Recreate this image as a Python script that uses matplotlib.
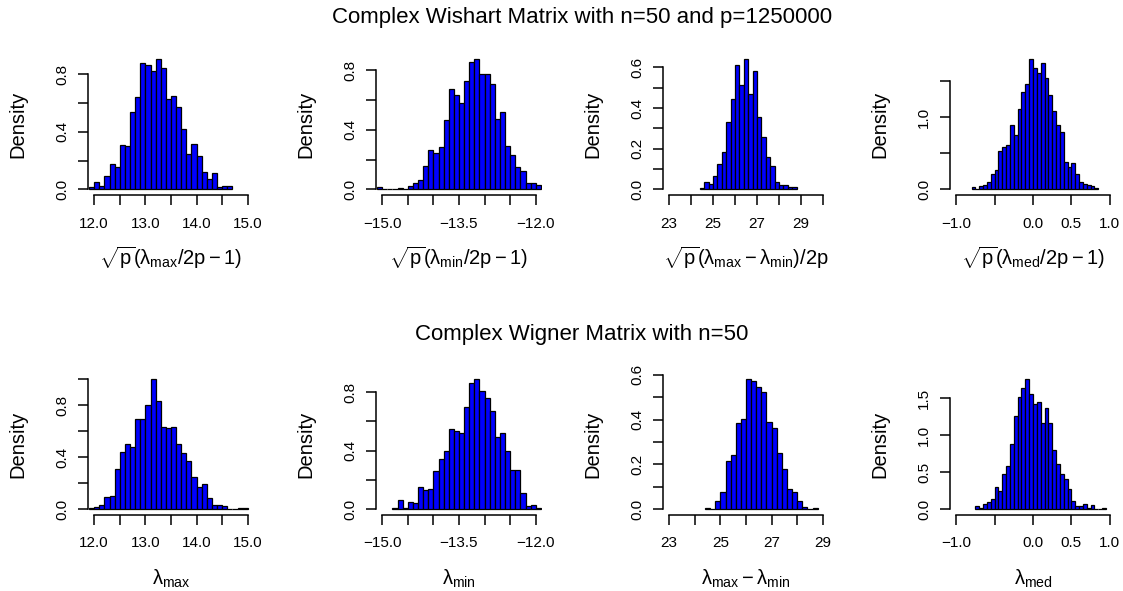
import numpy as np
import matplotlib
matplotlib.use("Agg")
import matplotlib.pyplot as plt

plt.rcParams['font.family'] = ['Liberation Sans', 'DejaVu Sans']
plt.rcParams['mathtext.fontset'] = 'custom'
plt.rcParams['mathtext.rm'] = 'Liberation Sans'
plt.rcParams['mathtext.it'] = 'Liberation Sans'
plt.rcParams['mathtext.sf'] = 'Liberation Sans'
plt.rcParams['mathtext.bf'] = 'Liberation Sans:bold'

# ---- data (histogram densities) ----
wishart_title = "Complex Wishart Matrix with n=50 and p=1250000"
wigner_title = "Complex Wigner Matrix with n=50"

# top row: Wishart
w_max_start, w_max_width = 11.9, 0.1
w_max_dens = [0.014, 0.053, 0.023, 0.093, 0.174, 0.153, 0.311, 0.302, 0.54, 0.643,
              0.879, 0.863, 0.821, 0.909, 0.842, 0.631, 0.65, 0.571, 0.418, 0.244,
              0.318, 0.23, 0.121, 0.072, 0.111, 0.014, 0.026, 0.026]

w_min_start, w_min_width = -15.1, 0.1
w_min_dens = [0.013, 0.0, 0.0, 0.0, 0.011, 0.003, 0.025, 0.043, 0.061, 0.155,
              0.263, 0.243, 0.283, 0.465, 0.672, 0.634, 0.58, 0.73, 0.858, 0.879,
              0.778, 0.775, 0.706, 0.472, 0.519, 0.292, 0.234, 0.148, 0.126, 0.04,
              0.043, 0.027]

w_rng_start, w_rng_width = 24.4, 0.2
w_rng_dens = [0.007, 0.038, 0.028, 0.067, 0.127, 0.186, 0.331, 0.446, 0.613, 0.515,
              0.643, 0.47, 0.585, 0.355, 0.258, 0.161, 0.113, 0.038, 0.021, 0.02,
              0.01, 0.013]

w_med_start, w_med_width = -0.8, 0.05
w_med_dens = [0.028, 0.005, 0.05, 0.055, 0.097, 0.207, 0.272, 0.525, 0.585, 0.608,
              0.889, 0.76, 1.11, 1.355, 1.465, 1.81, 1.68, 1.61, 1.755, 1.54,
              1.31, 1.09, 0.889, 0.80, 0.373, 0.313, 0.364, 0.212, 0.101, 0.069,
              0.055, 0.041, 0.023]

# bottom row: Wigner
g_max_start, g_max_width = 11.9, 0.1
g_max_dens = [0.008, 0.02, 0.033, 0.092, 0.102, 0.312, 0.442, 0.499, 0.478, 0.696,
              0.696, 0.798, 1.0, 0.831, 0.629, 0.621, 0.629, 0.499, 0.432, 0.368,
              0.251, 0.174, 0.192, 0.09, 0.033, 0.033, 0.023, 0.003, 0.0, 0.01,
              0.01]

g_min_start, g_min_width = -14.8, 0.1
g_min_dens = [0.011, 0.062, 0.011, 0.05, 0.041, 0.153, 0.13, 0.139, 0.262, 0.342,
              0.401, 0.551, 0.533, 0.519, 0.702, 0.861, 0.891, 0.811, 0.759, 0.672,
              0.492, 0.519, 0.401, 0.271, 0.271, 0.112, 0.023, 0.032, 0.007]

g_rng_start, g_rng_width = 24.4, 0.2
g_rng_dens = [0.004, 0.003, 0.037, 0.076, 0.214, 0.244, 0.384, 0.403, 0.582, 0.573,
              0.546, 0.522, 0.388, 0.363, 0.25, 0.179, 0.089, 0.076, 0.036, 0.012,
              0.001, 0.006]

g_med_start, g_med_width = -0.75, 0.05
g_med_dens = [0.045, 0.023, 0.068, 0.104, 0.14, 0.302, 0.243, 0.482, 0.577, 0.878,
              1.261, 1.514, 1.64, 1.757, 1.559, 1.414, 1.441, 1.162, 1.36, 1.158,
              0.797, 0.617, 0.477, 0.405, 0.275, 0.113, 0.045, 0.05, 0.068, 0.018,
              0.063, 0.0, 0.0, 0.023]

# axis ticks / labels
max_xticks = [12.0, 12.5, 13.0, 13.5, 14.0, 14.5, 15.0]
max_xlabels = ['12.0', '', '13.0', '', '14.0', '', '15.0']
min_xticks = [-15.0, -14.5, -14.0, -13.5, -13.0, -12.5, -12.0]
min_xlabels = ['\u221215.0', '', '', '\u221213.5', '', '', '\u221212.0']
rng_xticks_top = [23, 24, 25, 26, 27, 28, 29, 30]
rng_xlabels_top = ['23', '', '25', '', '27', '', '29', '']
rng_xticks_bot = [23, 24, 25, 26, 27, 28, 29]
rng_xlabels_bot = ['23', '', '25', '', '27', '', '29']
med_xticks = [-1.0, -0.5, 0.0, 0.5, 1.0]
med_xlabels = ['\u22121.0', '', '0.0', '0.5', '1.0']

y08_ticks = [0.0, 0.2, 0.4, 0.6, 0.8]
y08_labels = ['0.0', '', '0.4', '', '0.8']
y10_ticks = [0.0, 0.2, 0.4, 0.6, 0.8, 1.0]
y10_labels = ['0.0', '', '0.4', '', '0.8', '']
y06_ticks = [0.0, 0.1, 0.2, 0.3, 0.4, 0.5, 0.6]
y06_labels = ['0.0', '', '0.2', '', '0.4', '', '0.6']
y15_ticks = [0.0, 0.5, 1.0, 1.5]
y15_labels_top = ['0.0', '', '1.0', '']
y15_labels_bot = ['0.0', '0.5', '1.0', '1.5']

xlabs_top = [r'$\sqrt{\mathrm{p}}(\lambda_{\mathrm{max}}/2\mathrm{p}-1)$',
             r'$\sqrt{\mathrm{p}}(\lambda_{\mathrm{min}}/2\mathrm{p}-1)$',
             r'$\sqrt{\mathrm{p}}(\lambda_{\mathrm{max}}-\lambda_{\mathrm{min}})/2\mathrm{p}$',
             r'$\sqrt{\mathrm{p}}(\lambda_{\mathrm{med}}/2\mathrm{p}-1)$']
xlabs_bot = [r'$\lambda_{\mathrm{max}}$', r'$\lambda_{\mathrm{min}}$',
             r'$\lambda_{\mathrm{max}}-\lambda_{\mathrm{min}}$', r'$\lambda_{\mathrm{med}}$']

panels = [
    (w_max_start, w_max_width, w_max_dens, (12, 15), max_xticks, max_xlabels, y08_ticks, y08_labels, xlabs_top[0]),
    (w_min_start, w_min_width, w_min_dens, (-15, -12), min_xticks, min_xlabels, y08_ticks, y08_labels, xlabs_top[1]),
    (w_rng_start, w_rng_width, w_rng_dens, (23, 30), rng_xticks_top, rng_xlabels_top, y06_ticks, y06_labels, xlabs_top[2]),
    (w_med_start, w_med_width, w_med_dens, (-1, 1), med_xticks, med_xlabels, y15_ticks, y15_labels_top, xlabs_top[3]),
    (g_max_start, g_max_width, g_max_dens, (12, 15), max_xticks, max_xlabels, y10_ticks, y10_labels, xlabs_bot[0]),
    (g_min_start, g_min_width, g_min_dens, (-15, -12), min_xticks, min_xlabels, y08_ticks, y08_labels, xlabs_bot[1]),
    (g_rng_start, g_rng_width, g_rng_dens, (23, 29), rng_xticks_bot, rng_xlabels_bot, y06_ticks, y06_labels, xlabs_bot[2]),
    (g_med_start, g_med_width, g_med_dens, (-1, 1), med_xticks, med_xlabels, y15_ticks, y15_labels_bot, xlabs_bot[3]),
]

W, H = 1123, 591
fig = plt.figure(figsize=(W / 100, H / 100), dpi=100)

lefts = [88, 376, 663, 950]
pw = 166
rows = [(53.5, 194.6), (373.7, 514.5)]

for k, (start, width, dens, xl, xt, xtl, yt, ytl, xlab) in enumerate(panels):
    top, bot = rows[k // 4]
    ph = bot - top
    ax = fig.add_axes([lefts[k % 4] / W, (H - bot) / H, pw / W, ph / H])
    dens = np.array(dens)
    edges = start + width * np.arange(len(dens))
    ax.bar(edges, dens, width=width, align='edge', color='#0000ff',
           edgecolor='black', linewidth=0.9)
    span = xl[1] - xl[0]
    ax.set_xlim(xl[0] - 0.04 * span, xl[1] + 0.04 * span)
    ymax = dens.max()
    ax.set_ylim(-0.04 * ymax, 1.04 * ymax)
    for s in ['top', 'right']:
        ax.spines[s].set_visible(False)
    ax.spines['left'].set_bounds(yt[0], yt[-1])
    ax.spines['bottom'].set_bounds(xt[0], xt[-1])
    ax.spines['left'].set_linewidth(1.1)
    ax.spines['bottom'].set_linewidth(1.1)
    ax.set_xticks(xt)
    ax.set_xticklabels(xtl)
    ax.set_yticks(yt)
    ax.set_yticklabels(ytl)
    ax.tick_params(direction='out', length=7.2, width=1.1, labelsize=11)
    ax.tick_params(axis='x', pad=8.6)
    ax.tick_params(axis='y', pad=6.3, labelrotation=90)
    for lbl in ax.get_yticklabels():
        lbl.set_va('center')
    ax.set_xlabel(xlab, fontsize=14.5)
    ax.xaxis.set_label_coords(0.5, -70 / ph)
    ax.xaxis.label.set_va('baseline')
    ax.set_ylabel('Density', fontsize=14.5)
    ax.yaxis.set_label_coords(-70 / pw, 0.5)
    ax.yaxis.label.set_va('center')

fig.text(582 / W, (H - 23.3) / H, wishart_title, ha='center', va='baseline', fontsize=16)
fig.text(582 / W, (H - 340) / H, wigner_title, ha='center', va='baseline', fontsize=16)

fig.savefig('out.png', dpi=100)
